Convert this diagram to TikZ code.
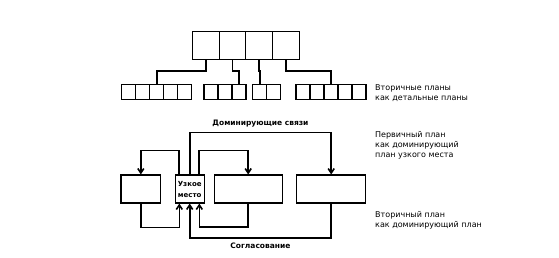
\documentclass[tikz,border=0pt]{standalone}
\usepackage{fontspec}
\setmainfont{DejaVu Sans}
\usetikzlibrary{positioning,arrows.meta}

\begin{document}
\begin{tikzpicture}[
  x=1pt, y=-1pt,
  cell/.style={draw, line width=1.1pt, minimum width=14pt,
               minimum height=14.5pt, inner sep=0pt},
  bigcell/.style={cell, minimum width=26.6pt, minimum height=27.5pt},
  box/.style={draw, line width=1.1pt, minimum height=28pt, inner sep=1pt,
              font=\fontsize{7}{11}\selectfont\bfseries, align=center},
  link/.style={line width=1.6pt},
  arrow/.style={link, -{Straight Barb[length=4.5pt,width=6pt]}},
  lbl/.style={font=\fontsize{7.5}{9}\selectfont\bfseries, inner sep=0pt},
  note/.style={font=\fontsize{8}{10.3}\selectfont, align=left,
               anchor=north west, inner sep=0pt}
]
\useasboundingbox (0,0) rectangle (559,257);

% secondary plans as detailed plans
\foreach \i in {1,...,4}
  \node[bigcell] (t\i) at (179.4+26.6*\i, 45.4) {};
\foreach \g/\x/\n in {a/121.7/5, b/204/3, c/252.7/2, d/296/5}
  \foreach \i in {1,...,\n}
    \node[cell] (\g\i) at (\x+14*\i-7, 91.8) {};
\foreach \s/\e in {t1/a3, t2/b3, t3/c1, t4/d3}
  \draw[link] (\s.south) -- ++(0,11.5) -| (\e.north);

% bottleneck
\node[box, minimum width=39.7pt] (left)  at (140.8,189) {};
\node[box, minimum width=29.3pt] (neck)  at (189.7,189) {Узкое\\место};
\node[box, minimum width=68.3pt] (mid)   at (248.2,189) {};
\node[box, minimum width=69pt]   (right) at (331.2,189) {};

\draw[arrow] ([xshift=-10.7pt]neck.north) -- ++(0,-24) -| (left.north);
\draw[arrow] ([xshift=9pt]neck.north) -- ++(0,-24) -| (mid.north);
\draw[arrow] (neck.north) -- ++(0,-42)
  -| node[lbl, pos=0.25, above=5pt] {Доминирующие связи} (right.north);

\draw[arrow] (left.south) -- ++(0,24) -| ([xshift=-10.4pt]neck.south);
\draw[arrow] (mid.south) -- ++(0,23.5) -| ([xshift=9.6pt]neck.south);
\draw[arrow] (right.south) -- ++(0,34.5)
  -| node[lbl, pos=0.25, below=4pt] {Согласование} (neck.south);

% notes
\node[note] (n1) at (375,84)  {Вторичные планы\\как детальные планы};
\node[note] (n2) at (375,131) {Первичный план\\как доминирующий\\план узкого места};
\node[note] (n3) at (375,211) {Вторичный план\\как доминирующий план};
\end{tikzpicture}
\end{document}
